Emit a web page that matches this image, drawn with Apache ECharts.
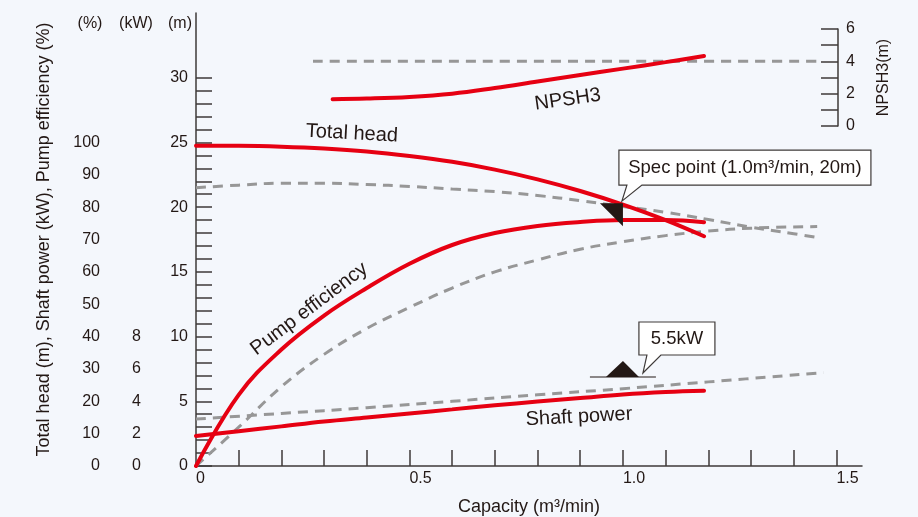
<!DOCTYPE html>
<html><head><meta charset="utf-8">
<script src="https://cdn.jsdelivr.net/npm/echarts@6/dist/echarts.min.js"></script>
<style>html,body{margin:0;padding:0;background:#f4f7fc}#c{width:918px;height:517px}</style>
</head><body><div id="c"></div>
<script>
// ---- data (capacity in m3/min) ----
const capRed      = [0, 0.1, 0.2, 0.3, 0.4, 0.5, 0.6, 0.7, 0.8, 0.9, 1.0, 1.1, 1.19];
const headRed     = [24.75, 24.74, 24.67, 24.53, 24.3, 23.95, 23.5, 22.9, 22.15, 21.25, 20.2, 19.0, 17.75];
const powerRed    = [1.86, 2.15, 2.45, 2.75, 3.0, 3.25, 3.5, 3.75, 3.98, 4.2, 4.42, 4.57, 4.65];
const capEffRed   = [0, 0.1, 0.2, 0.3, 0.4, 0.5, 0.6, 0.7, 0.8, 0.9, 1.0, 1.1, 1.19];
const effRed      = [0, 22, 36, 46.5, 55, 62.5, 68.3, 72, 74.2, 75.4, 76, 76, 75.3];
const capNpsh     = [0.32, 0.4, 0.5, 0.6, 0.7, 0.8, 0.9, 1.0, 1.1, 1.19];
const npsh3       = [1.66, 1.7, 1.8, 2.0, 2.35, 2.75, 3.15, 3.55, 3.95, 4.33];

const capHeadGray = [0, 0.1, 0.2, 0.3, 0.4, 0.5, 0.6, 0.7, 0.8, 0.9, 1.0, 1.1, 1.2, 1.3, 1.4, 1.455];
const headGray    = [21.5, 21.7, 21.85, 21.85, 21.75, 21.6, 21.4, 21.2, 20.9, 20.5, 20.05, 19.6, 19.05, 18.45, 17.95, 17.65];
const capEffGray  = [0, 0.1, 0.2, 0.3, 0.4, 0.5, 0.6, 0.7, 0.8, 0.9, 1.0, 1.1, 1.2, 1.3, 1.455];
const effGray     = [0, 12, 24.5, 34.5, 42.5, 49, 55, 60, 63.7, 67, 69.3, 71.2, 72.6, 73.5, 74];
const capPowGray  = [0, 0.2, 0.4, 0.6, 0.8, 1.0, 1.2, 1.47];
const powerGray   = [2.9, 3.25, 3.6, 4.0, 4.4, 4.78, 5.2, 5.77];
const capNpshAv   = [0.274, 1.46];
const npshAv      = [4, 4];

const specPoint   = [1.0, 20];   // m3/min, m
const specPowerKW = 5.5;

// ---- ticks / labels ----
const xTicks     = [0.1,0.2,0.3,0.4,0.5,0.6,0.7,0.8,0.9,1.0,1.1,1.2,1.3,1.4,1.5];
const xLabels    = [0, 0.5, 1.0, 1.5];
const headTicks  = [0,1,2,3,4,5,6,7,8,9,10,11,12,13,14,15,16,17,18,19,20,21,22,23,24,25,26,27,28,29,30];
const headLabels = [0,5,10,15,20,25,30];
const kwLabels   = [0,2,4,6,8];
const effLabels  = [0,10,20,30,40,50,60,70,80,90,100];
const npshTicks  = [0,1,2,3,4,5,6];
const npshLabels = [0,2,4,6];

const FONT = '"Liberation Sans", Arial, Helvetica, sans-serif';
const INK = '#231815', AX = '#3e3a39', RED = '#e60012', GRAY = '#979797';
const pairs = (xs, ys) => xs.map((x, i) => [x, ys[i]]);
const dash = {type: [10, 7], width: 3, color: GRAY, cap: 'butt'};
const solid = {width: 4, color: RED, cap: 'round'};
function line(xs, ys, xi, yi, ls, z) {
  return {type: 'line', xAxisIndex: xi, yAxisIndex: yi, data: pairs(xs, ys), showSymbol: false,
    symbol: 'none', smooth: 0.4, lineStyle: ls, z: z, silent: true, animation: false};
}
const XMAX = 1.56;
const chart = echarts.init(document.getElementById('c'));
const lbl = {color: INK, fontSize: 16, fontFamily: FONT};
chart.setOption({
  backgroundColor: '#f4f7fc',
  animation: false,
  grid: [
    {left: 196, right: 56, top: 13, bottom: 51, containLabel: false, outerBoundsMode: 'none'},
    {left: 196, right: 56, top: 29, height: 97, containLabel: false, outerBoundsMode: 'none'}
  ],
  xAxis: [
    {gridIndex: 0, type: 'value', min: 0, max: XMAX, position: 'bottom',
      axisLine: {onZero: false, lineStyle: {color: AX, width: 1.5}},
      axisTick: {inside: true, length: 16, customValues: xTicks, lineStyle: {color: AX, width: 1.5}},
      axisLabel: Object.assign({customValues: xLabels, align: 'left', margin: 5,
        formatter: v => v === 0 ? '0' : v.toFixed(1)}, lbl),
      splitLine: {show: false},
      name: 'Capacity (m³/min)', nameLocation: 'middle', nameGap: 32,
      nameTextStyle: {color: INK, fontSize: 18, fontFamily: FONT}},
    {gridIndex: 1, type: 'value', min: 0, max: XMAX, show: false}
  ],
  yAxis: [
    {gridIndex: 0, type: 'value', min: 0, max: 35, position: 'left',
      axisLine: {show: true, onZero: false, lineStyle: {color: AX, width: 1.5}},
      axisTick: {show: true, inside: true, length: 16, customValues: headTicks, lineStyle: {color: AX, width: 1.5}},
      axisLabel: Object.assign({customValues: headLabels, margin: 8}, lbl),
      splitLine: {show: false}},
    {gridIndex: 0, type: 'value', min: 0, max: 28, offset: 47, position: 'left',
      axisLine: {show: false, onZero: false}, axisTick: {show: false},
      axisLabel: Object.assign({customValues: kwLabels, margin: 8}, lbl),
      splitLine: {show: false}},
    {gridIndex: 0, type: 'value', min: 0, max: 140, offset: 88, position: 'left',
      axisLine: {show: false, onZero: false}, axisTick: {show: false},
      axisLabel: Object.assign({customValues: effLabels, margin: 8}, lbl),
      splitLine: {show: false},
      name: 'Total head (m), Shaft power (kW), Pump efficiency (%)', nameLocation: 'middle', nameGap: 55,
      nameTextStyle: {color: INK, fontSize: 18, fontFamily: FONT}},
    {gridIndex: 1, type: 'value', min: 0, max: 6, position: 'right', offset: -24,
      axisLine: {show: true, onZero: false, lineStyle: {color: AX, width: 1.5}},
      axisTick: {show: true, inside: true, length: 17, customValues: npshTicks, lineStyle: {color: AX, width: 1.5}},
      axisLabel: Object.assign({customValues: npshLabels, margin: 8}, lbl),
      splitLine: {show: false},
      name: 'NPSH3(m)', nameLocation: 'middle', nameRotate: 90, nameGap: 38,
      nameTextStyle: {color: INK, fontSize: 16, fontFamily: FONT}}
  ],
  series: [
    line(capHeadGray, headGray, 0, 0, dash, 2),
    line(capEffGray, effGray, 0, 2, dash, 2),
    line(capPowGray, powerGray, 0, 1, dash, 2),
    line(capNpshAv, npshAv, 1, 3, dash, 2),
    line(capRed, headRed, 0, 0, solid, 3),
    line(capEffRed, effRed, 0, 2, solid, 3),
    line(capRed, powerRed, 0, 1, solid, 3),
    line(capNpsh, npsh3, 1, 3, solid, 3)
  ]
});

const P = (x, y, yi) => chart.convertToPixel({xAxisIndex: 0, yAxisIndex: yi || 0}, [x, y]);
const deg = d => d * Math.PI / 180;
function txt(text, p, rot, size, extra) {
  return Object.assign({type: 'text', x: p[0], y: p[1], rotation: deg(rot || 0), z: 20,
    style: {text: text, fill: INK, fontSize: size, fontFamily: FONT, align: 'center', verticalAlign: 'middle'}}, extra || {});
}
function bubble(x0, x1, y0, y1, pl, pr, tip) {
  return {type: 'polygon', z: 15, shape: {points: [[x0, y0], [x1, y0], [x1, y1], [pr, y1], tip, [pl, y1], [x0, y1]]},
    style: {fill: '#ffffff', stroke: AX, lineWidth: 1.2}};
}
const sp = P(specPoint[0], specPoint[1], 0);
const kp = P(1.0, specPowerKW, 1);
const g = [];
// spec point marker + callout
g.push({type: 'polygon', z: 16, shape: {points: [[sp[0] - 23, sp[1] - 4], [sp[0], sp[1] - 4], [sp[0], sp[1] + 19]]}, style: {fill: INK}});
g.push(bubble(sp[0] - 4, sp[0] + 248, sp[1] - 57, sp[1] - 22, sp[0] + 4, sp[0] + 19, [sp[0] - 1, sp[1] - 6]));
g.push(txt('Spec point (1.0m³/min, 20m)', [sp[0] + 122, sp[1] - 39.5], 0, 18.5));
// 5.5 kW marker + callout
g.push({type: 'line', z: 16, shape: {x1: kp[0] - 33, y1: kp[1], x2: kp[0] + 33, y2: kp[1]}, style: {stroke: INK, lineWidth: 1.2}});
g.push({type: 'polygon', z: 16, shape: {points: [[kp[0] - 17, kp[1]], [kp[0], kp[1] - 16], [kp[0] + 16, kp[1]]]}, style: {fill: INK}});
g.push(bubble(kp[0] + 16, kp[0] + 92, kp[1] - 55, kp[1] - 22, kp[0] + 24, kp[0] + 38, [kp[0] + 20, kp[1] - 4]));
g.push(txt('5.5kW', [kp[0] + 54, kp[1] - 38.5], 0, 18.5));
// curve labels
g.push(txt('Total head', P(0.365, 25.68, 0), -3, 20));
g.push(txt('Pump efficiency', P(0.265, 12.14, 0), 37, 20));
g.push(txt('NPSH3', P(0.871, 28.3, 0), 8, 20));
g.push(txt('Shaft power', P(0.897, 3.79, 0), 3, 20));
// unit headers
g.push(txt('(%)', [90, 24], 0, 16));
g.push(txt('(kW)', [136, 24], 0, 16));
g.push(txt('(m)', [180, 24], 0, 16));
chart.setOption({graphic: g});
</script>
</body></html>
